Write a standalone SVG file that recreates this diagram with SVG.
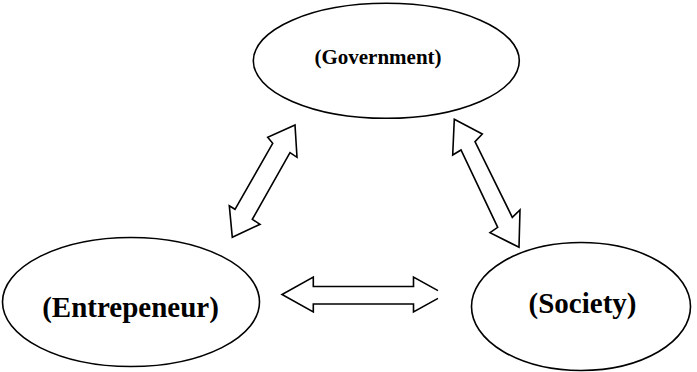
<svg xmlns="http://www.w3.org/2000/svg" width="697" height="372" viewBox="0 0 697 372">
  <style>
    .node ellipse { fill: #ffffff; stroke: #000000; stroke-width: 1.6; }
    .label { font-family: "Liberation Serif", "Times New Roman", serif; font-weight: bold; fill: #000000; text-anchor: middle; }
    .arrow { fill: #ffffff; stroke: #000000; stroke-width: 1.6; stroke-linejoin: miter; }
  </style>
  <rect x="0" y="0" width="697" height="372" fill="#ffffff"/>
  <g id="government" class="node">
    <ellipse cx="386.3" cy="60.8" rx="133" ry="57.5"/>
    <text class="label" x="378" y="64" font-size="21">(Government)</text>
  </g>
  <g id="entrepreneur" class="node">
    <ellipse cx="131" cy="302" rx="128.5" ry="64.5"/>
    <text class="label" x="130.5" y="316.5" font-size="29">(Entrepeneur)</text>
  </g>
  <g id="society" class="node">
    <ellipse cx="581" cy="306.5" rx="109.5" ry="64"/>
    <text class="label" x="582.5" y="312.5" font-size="29">(Society)</text>
  </g>
  <g id="connectors">
    <polygon class="arrow" points="295,125 267.7,137.3 272.7,143.3 235,209.3 229.3,205.7 232.3,237.3 260,224.3 252.3,219.3 290,152.7 297,157.3"/>
    <polygon class="arrow" points="454.3,119.3 482.3,134 475,141.7 512.3,217.3 520,210 519,247.3 490,232.7 497.7,227.3 461,150 452.7,155"/>
    <polygon points="282,294.5 313.3,277 313.3,286.5 413.5,286.5 413.5,277 438,290.6 438,298.4 413.5,312 413.5,304 313.3,304 313.3,312" fill="#ffffff" stroke="none"/>
    <polyline class="arrow" points="438,290.6 413.5,277 413.5,286.5 313.3,286.5 313.3,277 282,294.5 313.3,312 313.3,304 413.5,304 413.5,312 438,298.4"/>
  </g>
</svg>
